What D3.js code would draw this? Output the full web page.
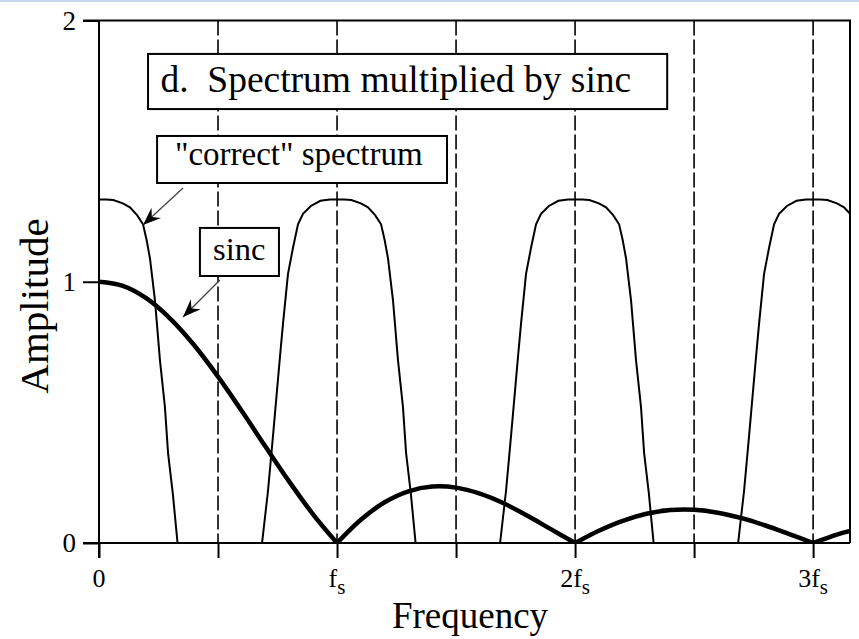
<!DOCTYPE html>
<html>
<head>
<meta charset="utf-8">
<script src="https://cdn.jsdelivr.net/npm/d3@7"></script>
<style>
  html, body { margin: 0; padding: 0; background: #fff; }
  svg { display: block; }
  text { font-family: "Liberation Serif", "Times New Roman", serif; fill: #000; }
</style>
</head>
<body>
<svg id="chart" width="859" height="639"></svg>
<script>
// Frequency in multiples of the sampling rate fs
const sincFreq = [0, 0.1, 0.2, 0.3, 0.4, 0.5, 0.6, 0.7, 0.8, 0.9, 1.0,
                  1.1, 1.2, 1.3, 1.4, 1.5, 1.6, 1.7, 1.8, 1.9, 2.0,
                  2.1, 2.2, 2.3, 2.4, 2.5, 2.6, 2.7, 2.8, 2.9, 3.0,
                  3.1, 3.155];
const sincAmp = [1.000, 0.984, 0.936, 0.858, 0.757, 0.637, 0.505, 0.368, 0.234, 0.109, 0,
                 0.089, 0.156, 0.198, 0.216, 0.212, 0.189, 0.152, 0.104, 0.052, 0,
                 0.047, 0.085, 0.112, 0.126, 0.127, 0.116, 0.095, 0.067, 0.034, 0,
                 0.032, 0.046];

// One replica of the "correct" spectrum: offset from its centre (fs) and amplitude
const bumpOffset = [-0.315, -0.29, -0.269, -0.24, -0.227, -0.206, -0.185, -0.164, -0.143, -0.11, -0.07, -0.03,
                    0, 0.03, 0.06, 0.10, 0.13, 0.16, 0.185, 0.20, 0.214, 0.235, 0.256, 0.277, 0.29, 0.31, 0.33];
const bumpAmp    = [0, 0.20, 0.41, 0.71, 0.84, 1.03, 1.13, 1.22, 1.26, 1.29, 1.31, 1.315,
                    1.315, 1.315, 1.313, 1.30, 1.285, 1.255, 1.22, 1.16, 1.09, 0.93, 0.70, 0.52, 0.345, 0.19, 0];
const bumpCentres = [0, 1, 2, 3];

const xTickValues = [0, 0.5, 1, 1.5, 2, 2.5, 3];
const xTickLabels = {0: ["0", ""], 1: ["f", "s"], 2: ["2f", "s"], 3: ["3f", "s"]};
const yTickValues = [0, 1, 2];

const svg = d3.select("#chart");
const plotLeft = 99, plotRight = 850, plotTop = 20.5, plotBottom = 543;

const x = d3.scaleLinear().domain([0, 3.155]).range([plotLeft, plotRight]);
const y = d3.scaleLinear().domain([0, 2]).range([plotBottom, plotTop]);

// thin tinted strip along the top edge
svg.append("rect").attr("x", 0).attr("y", 0).attr("width", 859).attr("height", 2)
  .attr("fill", "#c6d8ef");

svg.append("defs").append("clipPath").attr("id", "plot-clip")
  .append("rect").attr("x", plotLeft).attr("y", plotTop)
  .attr("width", plotRight - plotLeft).attr("height", plotBottom - plotTop);

// dashed verticals every half fs
svg.append("g").selectAll("line")
  .data(xTickValues.filter(v => v > 0))
  .join("line")
  .attr("x1", d => x(d)).attr("x2", d => x(d))
  .attr("y1", plotTop).attr("y2", plotBottom)
  .attr("stroke", "#000").attr("stroke-width", 1.6)
  .attr("stroke-dasharray", "15,4");

// frame: top and right edges
svg.append("path")
  .attr("d", `M${x(0) - 16},${y(2)}H${plotRight}V${plotBottom}`)
  .attr("fill", "none").attr("stroke", "#000").attr("stroke-width", 2);

// x axis
const xAxis = svg.append("g")
  .attr("transform", `translate(0,${plotBottom})`)
  .call(d3.axisBottom(x).tickValues(xTickValues).tickSize(15).tickFormat(""));
xAxis.select(".domain").attr("d", `M${x(0) - 16},0H${plotRight}`).attr("stroke-width", 2);
xAxis.selectAll(".tick line").attr("stroke-width", 2);

const xLab = svg.append("g").selectAll("text")
  .data(xTickValues.filter(v => xTickLabels[v]))
  .join("text")
  .attr("x", d => x(d)).attr("y", 587)
  .attr("text-anchor", "middle")
  .style("font-size", "26px");
xLab.append("tspan").text(d => xTickLabels[d][0]);
xLab.append("tspan").attr("dy", 7).style("font-size", "21px").text(d => xTickLabels[d][1]);

// y axis
const yAxis = svg.append("g")
  .attr("transform", `translate(${plotLeft},0)`)
  .call(d3.axisLeft(y).tickValues(yTickValues).tickSize(16).tickPadding(7).tickFormat(d3.format("d")));
yAxis.select(".domain").attr("d", `M0,${plotTop}V${plotBottom + 15}`).attr("stroke-width", 2);
yAxis.selectAll(".tick line").attr("stroke-width", 2);
yAxis.selectAll(".tick text")
  .style("font-size", "27px").style("font-family", "'Liberation Serif', serif");

// axis titles
svg.append("text").attr("x", 470).attr("y", 628).attr("text-anchor", "middle")
  .style("font-size", "37px").text("Frequency");
svg.append("text").attr("transform", `translate(48,306) rotate(-90)`).attr("text-anchor", "middle")
  .style("font-size", "41px").text("Amplitude");

const plot = svg.append("g").attr("clip-path", "url(#plot-clip)");

// replicated "correct" spectrum
const bumpLine = d3.line().x(d => x(d[0])).y(d => y(d[1]));
plot.selectAll("path.bump")
  .data(bumpCentres.map(c => bumpOffset.map((o, i) => [c + o, bumpAmp[i]])))
  .join("path")
  .attr("class", "bump")
  .attr("d", bumpLine)
  .attr("fill", "none").attr("stroke", "#000").attr("stroke-width", 2)
  .attr("stroke-linejoin", "miter");

// |sinc| envelope, one lobe per path so the zeros stay sharp
const sincPts = sincFreq.map((f, i) => [f, sincAmp[i]]);
const lobes = [];
let cur = [];
sincPts.forEach((p, i) => {
  cur.push(p);
  if (p[1] === 0 && i > 0) { lobes.push(cur); cur = [p]; }
});
if (cur.length > 1) lobes.push(cur);
const sincLine = d3.line().x(d => x(d[0])).y(d => y(d[1])).curve(d3.curveCatmullRom);
plot.selectAll("path.sinc")
  .data(lobes)
  .join("path")
  .attr("class", "sinc")
  .attr("d", sincLine)
  .attr("fill", "none").attr("stroke", "#000").attr("stroke-width", 4.5)
  .attr("stroke-linejoin", "round");

// labelled boxes (data coordinates)
const boxes = [
  {x0: 0.206, x1: 2.387, y0: 1.872, y1: 1.661, tx: 0.258, ty: 1.727, size: 37.5, label: "d.  Spectrum multiplied by sinc"},
  {x0: 0.244, x1: 1.462, y0: 1.558, y1: 1.378, tx: 0.319, ty: 1.447, size: 33, label: "\"correct\" spectrum"},
  {x0: 0.424, x1: 0.756, y0: 1.206, y1: 1.022, tx: 0.479, ty: 1.084, size: 32.5, label: "sinc"}
];
const boxG = svg.append("g").selectAll("g").data(boxes).join("g");
boxG.append("rect")
  .attr("x", d => x(d.x0)).attr("y", d => y(d.y0))
  .attr("width", d => x(d.x1) - x(d.x0)).attr("height", d => y(d.y1) - y(d.y0))
  .attr("fill", "#fff").attr("stroke", "#000").attr("stroke-width", 2);
boxG.append("text")
  .attr("x", d => x(d.tx)).attr("y", d => y(d.ty))
  .style("font-size", d => d.size + "px")
  .style("white-space", "pre")
  .text(d => d.label);

// pointer arrows
const arrows = [
  {from: [0.353, 1.359], to: [0.185, 1.217]},
  {from: [0.508, 1.007], to: [0.353, 0.865]}
];
const arrG = svg.append("g").selectAll("g").data(arrows).join("g");
arrG.append("line")
  .attr("x1", d => x(d.from[0])).attr("y1", d => y(d.from[1]))
  .attr("x2", d => x(d.to[0])).attr("y2", d => y(d.to[1]))
  .attr("stroke", "#444").attr("stroke-width", 1.3);
arrG.append("path")
  .attr("d", "M0,0L-18,-7L-12,0L-18,7Z")
  .attr("fill", "#000")
  .attr("transform", d => {
    const ax = x(d.to[0]), ay = y(d.to[1]);
    const ang = Math.atan2(ay - y(d.from[1]), ax - x(d.from[0])) * 180 / Math.PI;
    return `translate(${ax},${ay}) rotate(${ang})`;
  });
</script>
</body>
</html>
